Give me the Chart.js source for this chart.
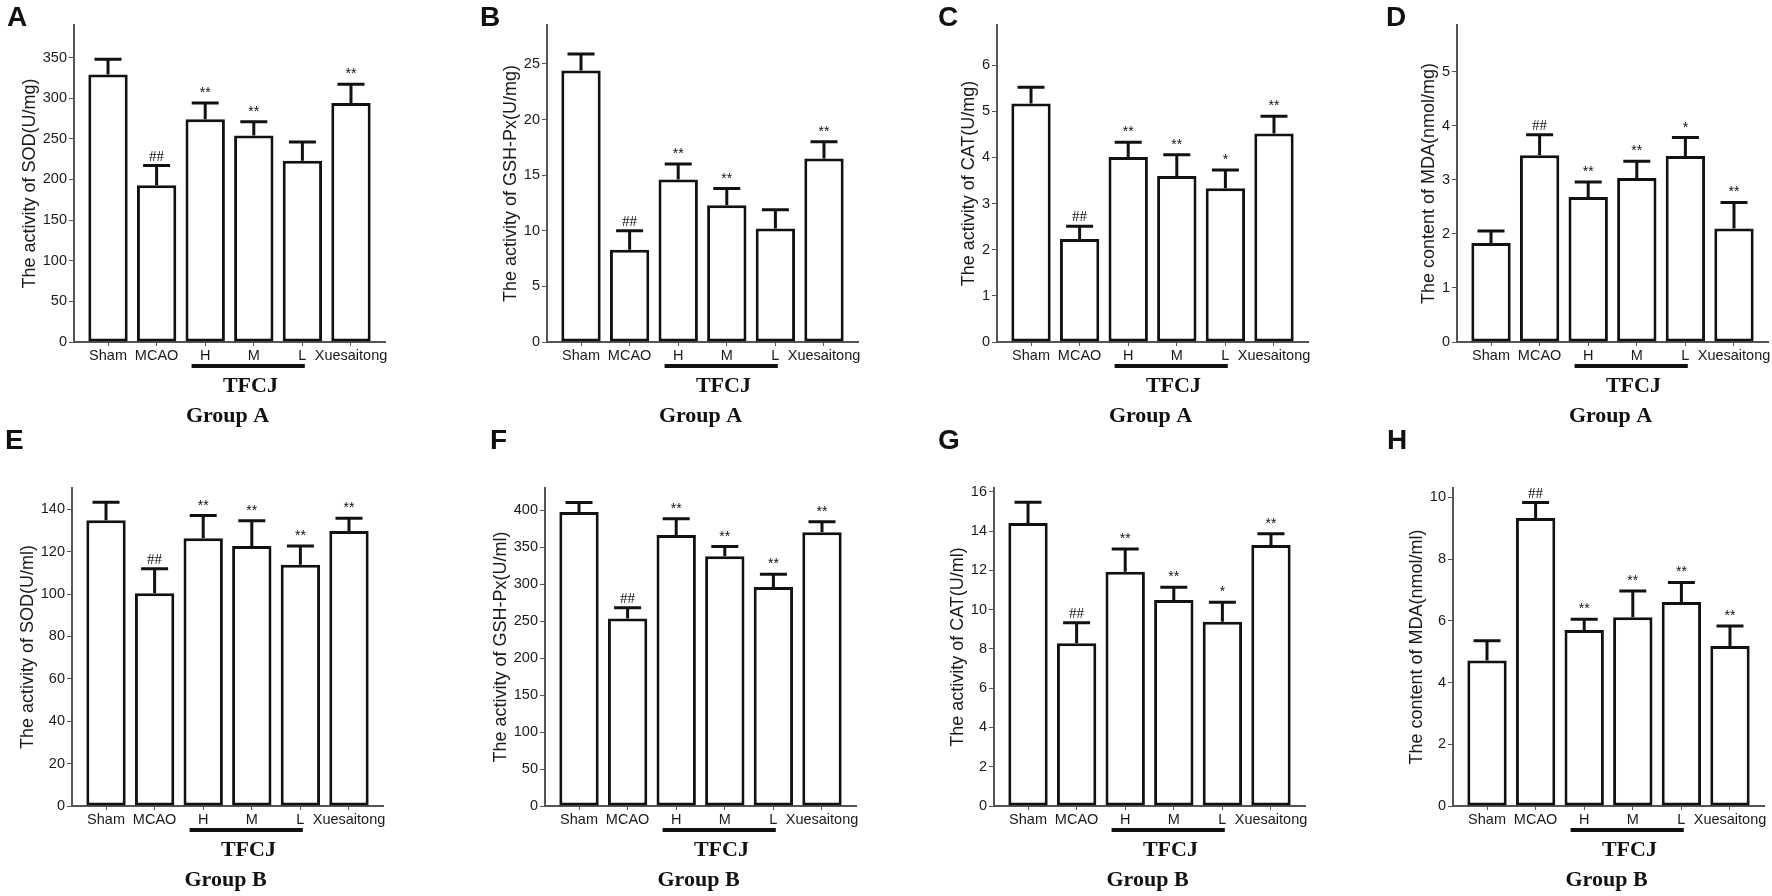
<!DOCTYPE html>
<html>
<head>
<meta charset="utf-8">
<title>SOD, GSH-Px, CAT and MDA - Group A / Group B</title>
<script src="https://cdn.jsdelivr.net/npm/chart.js@4.4.1/dist/chart.umd.min.js"></script>
<style>
  html, body { margin: 0; padding: 0; background: #fff; }
  body { width: 1772px; height: 896px; position: relative; overflow: hidden; }
  canvas { position: absolute; }
  .letter { position: absolute; font: bold 28px 'Liberation Sans', Arial, sans-serif; line-height: 1; color: #111; }
</style>
</head>
<body>
<script>
// ============================================
// Data
// ============================================

const groups = ['Sham', 'MCAO', 'H', 'M', 'L', 'Xuesaitong'];

// Group A (tissue)
const sodA = [329, 193, 274, 254, 223, 294];
const sodAErr = [19, 24, 20, 17, 23, 23];
const gshA = [24.4, 8.3, 14.6, 12.3, 10.2, 16.5];
const gshAErr = [1.5, 1.7, 1.4, 1.5, 1.7, 1.5];
const catA = [5.17, 2.23, 4.01, 3.6, 3.33, 4.52];
const catAErr = [0.35, 0.28, 0.32, 0.46, 0.4, 0.37];
const mdaA = [1.83, 3.45, 2.68, 3.03, 3.44, 2.1];
const mdaAErr = [0.22, 0.38, 0.28, 0.31, 0.34, 0.48];

// Group B (serum)
const sodB = [134.8, 100.3, 126.3, 122.7, 113.8, 129.7];
const sodBErr = [8.5, 11.6, 10.7, 11.8, 8.9, 6.0];
const gshB = [397.7, 253.7, 366.6, 337.7, 296.2, 370.2];
const gshBErr = [12.7, 14.5, 21.7, 13.1, 17.1, 14.0];
const catB = [14.42, 8.29, 11.93, 10.49, 9.38, 13.29];
const catBErr = [1.05, 1.05, 1.16, 0.66, 1.0, 0.58];
const mdaB = [4.71, 9.33, 5.7, 6.11, 6.61, 5.18];
const mdaBErr = [0.64, 0.5, 0.35, 0.85, 0.63, 0.65];

// significance marks
const marksSodA = ['', '##', '**', '**', '', '**'];
const marksGshA = ['', '##', '**', '**', '', '**'];
const marksCatA = ['', '##', '**', '**', '*', '**'];
const marksMdaA = ['', '##', '**', '**', '*', '**'];
const marksSodB = ['', '##', '**', '**', '**', '**'];
const marksGshB = ['', '##', '**', '**', '**', '**'];
const marksCatB = ['', '##', '**', '**', '*', '**'];
const marksMdaB = ['', '##', '**', '**', '**', '**'];

// y axis ranges and tick steps
const yMax = [390, 28.5, 6.87, 5.86, 150, 430, 16.2, 10.3];
const yStep = [50, 5, 1, 1, 20, 50, 2, 2];

// ============================================
// Layout
// ============================================

const AXIS_W = 311;   // width of x axis in px
const LEFT_SPACE = 90;

const panels = [
  { letter: 'A', title: 'The activity of SOD(U/mg)', group: 'Group A', means: sodA, errs: sodAErr, marks: marksSodA, left: 74, top: 25, zero: 342, lx: 7, ly: 3 },
  { letter: 'B', title: 'The activity of GSH-Px(U/mg)', group: 'Group A', means: gshA, errs: gshAErr, marks: marksGshA, left: 547, top: 25, zero: 342, lx: 480, ly: 3 },
  { letter: 'C', title: 'The activity of CAT(U/mg)', group: 'Group A', means: catA, errs: catAErr, marks: marksCatA, left: 997, top: 25, zero: 342, lx: 938, ly: 3 },
  { letter: 'D', title: 'The content of MDA(nmol/mg)', group: 'Group A', means: mdaA, errs: mdaAErr, marks: marksMdaA, left: 1457, top: 25, zero: 342, lx: 1386, ly: 3 },
  { letter: 'E', title: 'The activity of SOD(U/ml)', group: 'Group B', means: sodB, errs: sodBErr, marks: marksSodB, left: 72, top: 488, zero: 806, lx: 5, ly: 426 },
  { letter: 'F', title: 'The activity of GSH-Px(U/ml)', group: 'Group B', means: gshB, errs: gshBErr, marks: marksGshB, left: 545, top: 488, zero: 806, lx: 490, ly: 426 },
  { letter: 'G', title: 'The activity of CAT(U/ml)', group: 'Group B', means: catB, errs: catBErr, marks: marksCatB, left: 994, top: 488, zero: 806, lx: 938, ly: 426 },
  { letter: 'H', title: 'The content of MDA(nmol/ml)', group: 'Group B', means: mdaB, errs: mdaBErr, marks: marksMdaB, left: 1453, top: 488, zero: 806, lx: 1387, ly: 426 }
];

Chart.defaults.font.family = "'Liberation Sans', Arial, sans-serif";
Chart.defaults.color = '#1a1a1a';

// error bars, significance marks, TFCJ bracket and group caption
function decorPlugin(p) {
  return {
    id: 'decor',
    afterDatasetsDraw(chart) {
      const { ctx, scales: { x, y } } = chart;
      ctx.save();
      ctx.strokeStyle = '#111';
      ctx.fillStyle = '#111';
      ctx.lineWidth = 3;
      p.means.forEach((m, i) => {
        const cx = x.getPixelForValue(i);
        const yBar = y.getPixelForValue(m);
        const yTop = y.getPixelForValue(m + p.errs[i]);
        ctx.beginPath();
        ctx.moveTo(cx, yBar);
        ctx.lineTo(cx, yTop);
        ctx.moveTo(cx - 13.5, yTop);
        ctx.lineTo(cx + 13.5, yTop);
        ctx.stroke();
        const mark = p.marks[i];
        if (mark) {
          ctx.textAlign = 'center';
          ctx.textBaseline = 'alphabetic';
          if (mark[0] === '#') {
            ctx.font = "15px 'Liberation Serif', serif";
            ctx.fillText(mark, cx, yTop - 5);
          } else {
            ctx.font = "14px 'Liberation Sans', Arial, sans-serif";
            ctx.fillText(mark, cx, yTop - 6);
          }
        }
      });
      ctx.restore();
    },
    afterDraw(chart) {
      const { ctx, scales: { x, y } } = chart;
      const yz = y.getPixelForValue(0);
      ctx.save();
      ctx.strokeStyle = '#111';
      ctx.lineWidth = 4;
      ctx.beginPath();
      ctx.moveTo(x.getPixelForValue(1.72), yz + 24);
      ctx.lineTo(x.getPixelForValue(4.05), yz + 24);
      ctx.stroke();
      ctx.fillStyle = '#111';
      ctx.textAlign = 'center';
      ctx.textBaseline = 'middle';
      ctx.font = "bold 22px 'Liberation Serif', 'Times New Roman', serif";
      ctx.fillText('TFCJ', x.getPixelForValue(2.93), yz + 44);
      ctx.fillText(p.group, x.getPixelForValue(2.46), yz + 74);
      ctx.restore();
    }
  };
}

function makePanel(p, idx) {
  const w = LEFT_SPACE + AXIS_W + 4;
  const h = 20 + (p.zero - p.top) + 100;
  const canvas = document.createElement('canvas');
  canvas.width = w;
  canvas.height = h;
  canvas.style.left = (p.left - LEFT_SPACE) + 'px';
  canvas.style.top = (p.top - 20) + 'px';
  canvas.style.width = w + 'px';
  canvas.style.height = h + 'px';
  document.body.appendChild(canvas);

  const step = yStep[idx];
  const max = yMax[idx];

  const cfg = {
    type: 'bar',
    data: {
      datasets: [{
        data: p.means.map((m, i) => ({ x: i, y: m })),
        backgroundColor: '#ffffff',
        borderColor: '#111111',
        borderWidth: 3,
        borderSkipped: false,
        categoryPercentage: 0.9,
        barPercentage: 0.9
      }]
    },
    options: {
      responsive: false,
      animation: false,
      events: [],
      layout: { padding: { top: 20, right: 4, bottom: 0, left: 0 } },
      plugins: { legend: { display: false }, tooltip: { enabled: false } },
      scales: {
        x: {
          type: 'linear',
          min: -0.7,
          max: 5.7,
          offset: false,
          afterBuildTicks: s => { s.ticks = groups.map((g, i) => ({ value: i })); },
          afterFit: s => { s.height = 100; },
          ticks: {
            callback: v => groups[v],
            font: { size: 14.5 },
            color: '#1a1a1a',
            padding: 1,
            maxRotation: 0,
            autoSkip: false
          },
          grid: { drawOnChartArea: false, drawTicks: true, tickLength: 4, color: '#555', offset: false },
          border: { color: '#555', width: 2 }
        },
        y: {
          min: 0,
          max: max,
          afterBuildTicks: s => {
            const t = [];
            for (let v = 0; v <= max + 1e-9; v += step) t.push({ value: Math.round(v * 100) / 100 });
            s.ticks = t;
          },
          ticks: { callback: v => String(v), font: { size: 14.5 }, color: '#1a1a1a', padding: 2 },
          grid: { drawOnChartArea: false, drawTicks: true, tickLength: 5, color: '#555' },
          border: { color: '#555', width: 2 },
          title: {
            display: true,
            text: p.title,
            font: { size: 18 },
            color: '#1a1a1a',
            padding: { top: 0, bottom: 0 }
          }
        }
      }
    },
    plugins: [decorPlugin(p)]
  };

  const chart = new Chart(canvas, cfg);
  // put the y axis line exactly where it sits in the figure
  cfg.options.layout.padding.left = LEFT_SPACE - chart.scales.y.width;
  chart.update('none');

  const letter = document.createElement('div');
  letter.className = 'letter';
  letter.textContent = p.letter;
  letter.style.left = p.lx + 'px';
  letter.style.top = p.ly + 'px';
  document.body.appendChild(letter);
}

panels.forEach(makePanel);
</script>
</body>
</html>
